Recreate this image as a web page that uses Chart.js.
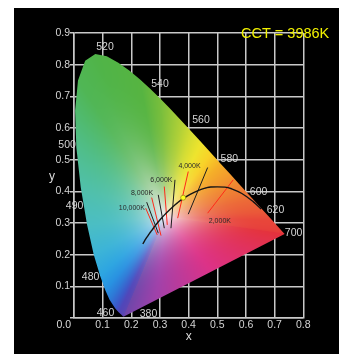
<!DOCTYPE html>
<html>
<head>
<meta charset="utf-8">
<script src="https://cdn.jsdelivr.net/npm/chart.js@4.4.1/dist/chart.umd.min.js"></script>
<style>
html, body { margin: 0; padding: 0; background: #fff; width: 339px; height: 354px; overflow: hidden; }
#panel { position: absolute; left: 14px; top: 8px; width: 325px; height: 346px; background: #000; }
</style>
</head>
<body>
<div id="panel"><canvas id="cie" width="325" height="346"></canvas></div>
<script>
// spectral locus (CIE 1931 2deg)
var locusNm = [380, 400, 420, 440, 450, 460, 470, 475, 480, 485, 490, 495, 500, 505, 510, 515, 520, 525, 530, 535, 540, 545, 550, 555, 560, 565, 570, 575, 580, 585, 590, 595, 600, 610, 620, 630, 640, 650, 660, 680, 700]
var locusX = [0.1741, 0.1733, 0.1714, 0.1644, 0.1566, 0.1440, 0.1241, 0.1096, 0.0913, 0.0687, 0.0454, 0.0235, 0.0082, 0.0039, 0.0139, 0.0389, 0.0743, 0.1142, 0.1547, 0.1929, 0.2296, 0.2658, 0.3016, 0.3373, 0.3731, 0.4087, 0.4441, 0.4788, 0.5125, 0.5448, 0.5752, 0.6029, 0.6270, 0.6658, 0.6915, 0.7079, 0.7190, 0.7260, 0.7300, 0.7334, 0.7347]
var locusY = [0.0050, 0.0048, 0.0051, 0.0109, 0.0177, 0.0297, 0.0578, 0.0868, 0.1327, 0.2007, 0.2950, 0.4127, 0.5384, 0.6548, 0.7502, 0.8120, 0.8338, 0.8262, 0.8059, 0.7816, 0.7543, 0.7243, 0.6923, 0.6589, 0.6245, 0.5896, 0.5547, 0.5202, 0.4866, 0.4544, 0.4242, 0.3965, 0.3725, 0.3340, 0.3083, 0.2920, 0.2809, 0.2740, 0.2700, 0.2666, 0.2653]

// planckian locus, infinity -> 1000K
var planckX = [0.2399, 0.2521, 0.2565, 0.2637, 0.2714, 0.2807, 0.2952, 0.3064, 0.3221, 0.3451, 0.3608, 0.3805, 0.4053, 0.4369, 0.4599, 0.4770, 0.5267, 0.5496, 0.5857, 0.6251, 0.6528]
var planckY = [0.2342, 0.2519, 0.2577, 0.2674, 0.2766, 0.2884, 0.3048, 0.3166, 0.3318, 0.3516, 0.3636, 0.3768, 0.3907, 0.4041, 0.4106, 0.4137, 0.4133, 0.4081, 0.3931, 0.3674, 0.3444]

// isotherm segments
var isoKelvin = [9000, 10000, 8000, 7000, 6000, 5000, 4000, 3000, 2000]
var isoX1 = [0.2536, 0.2501, 0.2710, 0.2940, 0.3150, 0.3523, 0.3987, 0.4663, 0.5556]
var isoY1 = [0.3658, 0.3468, 0.3803, 0.3889, 0.4151, 0.4363, 0.4625, 0.4752, 0.4363]
var isoX2 = [0.2940, 0.2905, 0.3035, 0.3150, 0.3254, 0.3383, 0.3617, 0.3987, 0.4663]
var isoY2 = [0.2678, 0.2624, 0.2602, 0.2836, 0.2940, 0.2836, 0.3152, 0.3279, 0.3310]

var cctLabels = ["10,000K", "8,000K", "6,000K", "4,000K", "2,000K"]
var cctLabelX = [0.2019, 0.2372, 0.3048, 0.4029, 0.5089]
var cctLabelY = [0.3487, 0.3952, 0.4363, 0.4783, 0.3067]

var nmLabels = ["520", "540", "560", "580", "600", "620", "700", "500", "490", "480", "460", "380"]
var nmLabelX = [0.108, 0.300, 0.443, 0.542, 0.644, 0.703, 0.766, -0.024, 0.002, 0.058, 0.110, 0.260]
var nmLabelY = [0.854, 0.740, 0.626, 0.503, 0.398, 0.341, 0.269, 0.547, 0.354, 0.130, 0.016, 0.013]

var measuredCCT = 3986
var measuredX = [0.381]
var measuredY = [0.380]

var xTicks = [0, 0.1, 0.2, 0.3, 0.4, 0.5, 0.6, 0.7, 0.8]
var yTicks = [0, 0.1, 0.2, 0.3, 0.4, 0.5, 0.6, 0.7, 0.8, 0.9]

// ---- colours of the horseshoe
var whiteX = 0.32, whiteY = 0.32
var whiteRGB = [246, 238, 243]
var nmColorStops = [
    [380, 110, 70, 170], [450, 80, 70, 185], [460, 60, 88, 200], [470, 45, 122, 215], [475, 40, 145, 225],
    [480, 45, 165, 225], [485, 60, 180, 215], [490, 75, 190, 195], [495, 80, 192, 170], [500, 80, 190, 140],
    [505, 80, 186, 110], [510, 80, 182, 85], [520, 80, 180, 72], [540, 86, 180, 65], [550, 120, 190, 60],
    [560, 175, 208, 55], [565, 210, 220, 50], [570, 238, 228, 45], [575, 248, 210, 40], [580, 245, 175, 40],
    [590, 240, 135, 50], [600, 236, 105, 55], [620, 232, 70, 58], [700, 228, 50, 60]
]
var purpleStops = [[0, 228, 50, 60], [0.45, 220, 50, 135], [0.8, 160, 65, 170], [1, 110, 70, 170]]

function lerpStops(stops, v){
    for(var i = 0; i < stops.length - 1; i++){
        var a = stops[i], b = stops[i + 1]
        if(v <= b[0]){
            var t = (v - a[0]) / (b[0] - a[0])
            return [a[1] + (b[1] - a[1]) * t, a[2] + (b[2] - a[2]) * t, a[3] + (b[3] - a[3]) * t]
        }
    }
    var l = stops[stops.length - 1]
    return [l[1], l[2], l[3]]
}
function mix(a, b, t){
    return [a[0] + (b[0] - a[0]) * t, a[1] + (b[1] - a[1]) * t, a[2] + (b[2] - a[2]) * t]
}

var horseshoeFill = {
    id: 'horseshoeFill',
    beforeDatasetsDraw: function(chart){
        var ctx = chart.ctx, area = chart.chartArea, xs = chart.scales.x, ys = chart.scales.y
        var n = locusX.length
        var cols = locusNm.map(function(nm){ return lerpStops(nmColorStops, nm) })
        var w = Math.ceil(area.right - area.left), h = Math.ceil(area.bottom - area.top)
        var off = document.createElement('canvas')
        off.width = w; off.height = h
        var octx = off.getContext('2d')
        var img = octx.createImageData(w, h)
        for(var j = 0; j < h; j++){
            var dy = ys.getValueForPixel(area.top + j + 0.5)
            for(var i = 0; i < w; i++){
                var dx = xs.getValueForPixel(area.left + i + 0.5)
                var rx = dx - whiteX, ry = dy - whiteY
                var best = Infinity, col = whiteRGB
                for(var k = 0; k < n; k++){
                    var k2 = (k + 1) % n
                    var ax = locusX[k], ay = locusY[k]
                    var ex = locusX[k2] - ax, ey = locusY[k2] - ay
                    var den = rx * ey - ry * ex
                    if(Math.abs(den) < 1e-12) continue
                    var qx = ax - whiteX, qy = ay - whiteY
                    var s = (qx * ey - qy * ex) / den
                    var u = (qx * ry - qy * rx) / den
                    if(s > 0 && u >= 0 && u <= 1 && s < best){
                        best = s
                        col = (k2 === 0) ? lerpStops(purpleStops, u) : mix(cols[k], cols[k2], u)
                    }
                }
                var t = Math.min(1, 1 / best)
                var f = 1 - Math.pow(1 - t, 3)
                var c = mix(whiteRGB, col, f)
                var p = (j * w + i) * 4
                img.data[p] = c[0]; img.data[p + 1] = c[1]; img.data[p + 2] = c[2]; img.data[p + 3] = 255
            }
        }
        octx.putImageData(img, 0, 0)
        ctx.save()
        ctx.beginPath()
        for(var m = 0; m < n; m++){
            var px = xs.getPixelForValue(locusX[m]), py = ys.getPixelForValue(locusY[m])
            if(m === 0) ctx.moveTo(px, py)
            else ctx.lineTo(px, py)
        }
        ctx.closePath()
        ctx.clip()
        ctx.drawImage(off, area.left, area.top)
        ctx.restore()
    }
}

var chartTexts = {
    id: 'chartTexts',
    afterDatasetsDraw: function(chart){
        var ctx = chart.ctx, area = chart.chartArea, xs = chart.scales.x, ys = chart.scales.y
        ctx.save()
        ctx.textBaseline = 'middle'
        ctx.textAlign = 'center'
        ctx.fillStyle = '#d4d4d4'
        ctx.font = '10.5px "Liberation Sans", Arial, sans-serif'
        for(var i = 0; i < nmLabels.length; i++){
            ctx.fillText(nmLabels[i], xs.getPixelForValue(nmLabelX[i]), ys.getPixelForValue(nmLabelY[i]))
        }
        ctx.fillStyle = '#2a2a2a'
        ctx.font = '7px "Liberation Sans", Arial, sans-serif'
        for(var j = 0; j < cctLabels.length; j++){
            ctx.fillText(cctLabels[j], xs.getPixelForValue(cctLabelX[j]), ys.getPixelForValue(cctLabelY[j]))
        }
        ctx.fillStyle = '#dcdcdc'
        ctx.font = '12px "Liberation Sans", Arial, sans-serif'
        ctx.fillText('x', (area.left + area.right) / 2, area.bottom + 19)
        ctx.fillText('y', area.left - 22, (area.top + area.bottom) / 2 + 1.5)
        ctx.font = '10.5px "Liberation Sans", Arial, sans-serif'
        ctx.textAlign = 'right'
        ctx.fillText('0.0', area.left - 3, area.bottom + 7.5)
        ctx.textAlign = 'left'
        ctx.fillStyle = '#f2f200'
        ctx.font = '14.5px "Liberation Sans", Arial, sans-serif'
        ctx.fillText('CCT = ' + measuredCCT + 'K', area.left + 167, area.top + 1)
        ctx.restore()
    }
}

var datasets = [{
    label: 'measured',
    data: measuredX.map(function(v, i){ return {x: v, y: measuredY[i]} }),
    pointRadius: 2.5,
    pointBackgroundColor: '#ffff20',
    pointBorderColor: '#6a6a00',
    pointBorderWidth: 0.5,
    showLine: false,
    order: 0
}, {
    label: 'planck',
    data: planckX.map(function(v, i){ return {x: v, y: planckY[i]} }),
    showLine: true,
    borderColor: '#151515',
    borderWidth: 1.4,
    tension: 0.4,
    pointRadius: 0,
    order: 1
}]
for(var i = 0; i < isoKelvin.length; i++){
    datasets.push({
        label: isoKelvin[i] + 'K',
        data: [{x: isoX1[i], y: isoY1[i]}, {x: isoX2[i], y: isoY2[i]}],
        showLine: true,
        borderColor: (isoKelvin[i] / 1000) % 2 === 0 ? '#ff2a1a' : '#1e1e1e',
        borderWidth: 1,
        pointRadius: 0,
        order: 2
    })
}

var gridColor = '#c9c9c9'
var tickFont = {family: '"Liberation Sans", Arial, sans-serif', size: 10.5}

new Chart(document.getElementById('cie'), {
    type: 'scatter',
    data: {datasets: datasets},
    options: {
        responsive: false,
        animation: false,
        events: [],
        layout: {padding: {top: 25, right: 35.7, left: 0, bottom: 0}},
        plugins: {legend: {display: false}, tooltip: {enabled: false}},
        scales: {
            x: {
                type: 'linear', min: 0, max: 0.8,
                afterBuildTicks: function(scale){ scale.ticks = xTicks.map(function(v){ return {value: v} }) },
                afterFit: function(scale){ scale.height = 36 },
                ticks: {color: '#d4d4d4', font: tickFont, padding: 1, maxRotation: 0,
                    callback: function(v){ return v === 0 ? '' : v.toFixed(1) }},
                grid: {color: gridColor, lineWidth: 1.5, drawTicks: false},
                border: {color: gridColor, width: 1.5}
            },
            y: {
                type: 'linear', min: 0, max: 0.9,
                afterBuildTicks: function(scale){ scale.ticks = yTicks.map(function(v){ return {value: v} }) },
                afterFit: function(scale){ scale.width = 60 },
                ticks: {color: '#d4d4d4', font: tickFont, padding: 0,
                    callback: function(v){ return v === 0 ? '' : v.toFixed(1) }},
                grid: {color: gridColor, lineWidth: 1.5, tickLength: 4},
                border: {color: gridColor, width: 1.5}
            }
        }
    },
    plugins: [horseshoeFill, chartTexts]
})
</script>
</body>
</html>
